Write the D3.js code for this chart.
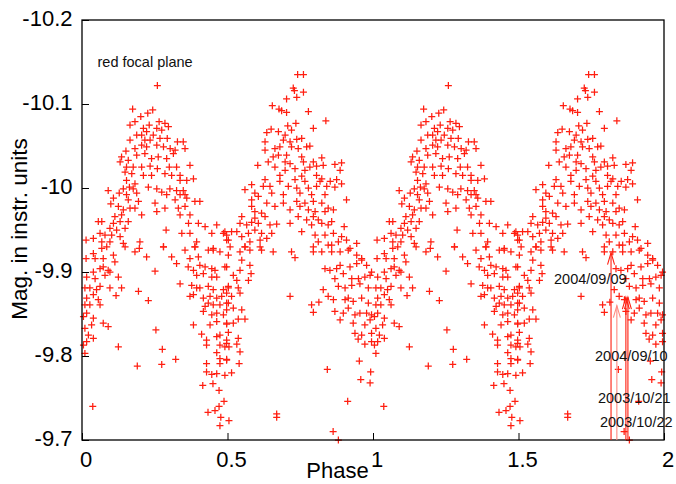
<!DOCTYPE html>
<html><head><meta charset="utf-8">
<script src="https://cdn.jsdelivr.net/npm/d3@7"></script>
<style>body{margin:0;background:#fff} text{font-family:"Liberation Sans",Arial,Helvetica,sans-serif}</style>
</head><body><svg id="c" width="676" height="484"></svg>
<script>
const xTicks=[0,0.5,1,1.5,2];
const xTickLabels=["0","0.5","1","1.5","2"];
const yTicks=[-10.2,-10.1,-10,-9.9,-9.8,-9.7];
const yTickLabels=["-10.2","-10.1","-10","-9.9","-9.8","-9.7"];
const cycles=[0,1];
// phase-folded observations for one cycle [phase, magnitude]
const obsPeak1=[[0.259,-10.122],[0.174,-10.094],[0.243,-10.093],[0.226,-10.089],[0.202,-10.085],[0.182,-10.079],[0.165,-10.075],[0.265,-10.079],[0.285,-10.077],[0.231,-10.075],[0.211,-10.071],[0.222,-10.067],[0.257,-10.071],[0.274,-10.069],[0.297,-10.073],[0.245,-10.063],[0.205,-10.063],[0.188,-10.063],[0.165,-10.057],[0.216,-10.057],[0.234,-10.057],[0.268,-10.059],[0.293,-10.059],[0.328,-10.055],[0.348,-10.055],[0.354,-10.047],[0.205,-10.051],[0.222,-10.049],[0.257,-10.051],[0.280,-10.049],[0.303,-10.047],[0.320,-10.045],[0.182,-10.047],[0.151,-10.044],[0.136,-10.037],[0.131,-10.031],[0.159,-10.033],[0.188,-10.039],[0.216,-10.041],[0.239,-10.035],[0.262,-10.037],[0.291,-10.035],[0.314,-10.041],[0.153,-10.025],[0.176,-10.025],[0.205,-10.025],[0.234,-10.026],[0.259,-10.023],[0.300,-10.025],[0.325,-10.025],[0.371,-10.027],[0.148,-10.019],[0.171,-10.017],[0.211,-10.015],[0.239,-10.015],[0.285,-10.017],[0.308,-10.015],[0.337,-10.015],[0.153,-10.009],[0.182,-10.005],[0.337,-10.009],[0.360,-10.009],[0.383,-10.011],[0.163,-10.001],[0.142,-9.999],[0.176,-9.999],[0.228,-10.001],[0.257,-9.999],[0.274,-9.995],[0.302,-9.999],[0.325,-9.997],[0.348,-9.997],[0.090,-9.997],[0.128,-9.994],[0.153,-9.992],[0.188,-9.994],[0.291,-9.992],[0.337,-9.992],[0.354,-9.992],[0.360,-9.988],[0.108,-9.988],[0.159,-9.986],[0.194,-9.984],[0.251,-9.982],[0.320,-9.986],[0.388,-9.984],[0.405,-9.984],[0.099,-9.981],[0.125,-9.978],[0.142,-9.974],[0.165,-9.976],[0.182,-9.976],[0.285,-9.976],[0.331,-9.976],[0.354,-9.978],[0.257,-9.972],[0.136,-9.968],[0.205,-9.968],[0.337,-9.968],[0.371,-9.968],[0.113,-9.966],[0.056,-9.960],[0.068,-9.960],[0.108,-9.958],[0.159,-9.960],[0.131,-9.960],[0.366,-9.958],[0.400,-9.958],[0.463,-9.956],[0.343,-9.946],[0.289,-9.950],[0.096,-9.952],[0.119,-9.950],[0.148,-9.952],[0.423,-9.954],[0.371,-9.946],[0.446,-9.946],[0.486,-9.946],[0.497,-9.944],[0.062,-9.946],[0.079,-9.944],[0.102,-9.944],[0.131,-9.942],[0.014,-9.938],[0.039,-9.940],[0.068,-9.936],[0.096,-9.936],[0.142,-9.934],[0.199,-9.936],[0.394,-9.936],[0.497,-9.938],[0.280,-9.930],[0.451,-9.928],[0.388,-9.930],[0.085,-9.930]];
const obsMin1=[[0.014,-9.916],[0.039,-9.922],[0.045,-9.916],[0.068,-9.928],[0.073,-9.916],[0.108,-9.920],[0.113,-9.912],[0.148,-9.930],[0.182,-9.924],[0.197,-9.928],[0.222,-9.918],[0.280,-9.930],[0.016,-9.894],[0.039,-9.900],[0.045,-9.892],[0.062,-9.904],[0.073,-9.906],[0.079,-9.896],[0.090,-9.902],[0.096,-9.900],[0.125,-9.894],[0.136,-9.881],[0.194,-9.877],[0.251,-9.901],[0.228,-9.866],[0.117,-9.872],[0.096,-9.881],[0.062,-9.883],[0.050,-9.879],[0.027,-9.881],[0.010,-9.881],[0.016,-9.869],[0.039,-9.873],[0.056,-9.867],[0.062,-9.861],[0.027,-9.861],[0.010,-9.861],[0.016,-9.851],[0.005,-9.847],[0.039,-9.845],[0.033,-9.837],[0.073,-9.839],[0.090,-9.835],[0.010,-9.833],[0.022,-9.825],[0.039,-9.821],[0.016,-9.817],[0.005,-9.813],[0.010,-9.803],[0.125,-9.811],[0.254,-9.831],[0.276,-9.808],[0.274,-9.790],[0.190,-9.788],[0.322,-9.796],[0.037,-9.740],[0.354,-9.926],[0.388,-9.930],[0.434,-9.926],[0.451,-9.926],[0.474,-9.924],[0.503,-9.920],[0.308,-9.918],[0.325,-9.910],[0.371,-9.916],[0.400,-9.918],[0.405,-9.908],[0.365,-9.906],[0.383,-9.902],[0.423,-9.906],[0.446,-9.904],[0.457,-9.902],[0.491,-9.906],[0.394,-9.896],[0.417,-9.898],[0.446,-9.894],[0.463,-9.894],[0.337,-9.886],[0.377,-9.884],[0.394,-9.881],[0.405,-9.881],[0.434,-9.883],[0.451,-9.879],[0.486,-9.879],[0.503,-9.881],[0.371,-9.871],[0.383,-9.873],[0.417,-9.869],[0.440,-9.871],[0.463,-9.869],[0.480,-9.871],[0.497,-9.875],[0.423,-9.859],[0.434,-9.863],[0.451,-9.861],[0.474,-9.861],[0.503,-9.863],[0.417,-9.853],[0.446,-9.849],[0.463,-9.851],[0.486,-9.849],[0.497,-9.855],[0.383,-9.837],[0.440,-9.837],[0.463,-9.841],[0.497,-9.839],[0.411,-9.826],[0.428,-9.819],[0.463,-9.823],[0.474,-9.825],[0.497,-9.819],[0.428,-9.813],[0.474,-9.813],[0.491,-9.811],[0.463,-9.804],[0.474,-9.797],[0.497,-9.795],[0.428,-9.791],[0.474,-9.791],[0.428,-9.781],[0.446,-9.778],[0.463,-9.779],[0.491,-9.777],[0.415,-9.765],[0.450,-9.767],[0.471,-9.759],[0.488,-9.746],[0.471,-9.740],[0.433,-9.733],[0.457,-9.735],[0.477,-9.727],[0.505,-9.723],[0.474,-9.717],[0.669,-9.731],[0.669,-9.727],[0.863,-9.710],[0.881,-9.700]];
const obsPeak2=[[0.741,-10.135],[0.761,-10.135],[0.726,-10.119],[0.730,-10.116],[0.761,-10.114],[0.703,-10.106],[0.738,-10.108],[0.654,-10.098],[0.677,-10.094],[0.703,-10.090],[0.778,-10.091],[0.686,-10.092],[0.838,-10.080],[0.795,-10.071],[0.707,-10.074],[0.735,-10.077],[0.720,-10.069],[0.635,-10.066],[0.650,-10.070],[0.675,-10.067],[0.698,-10.063],[0.755,-10.059],[0.629,-10.055],[0.692,-10.057],[0.715,-10.055],[0.738,-10.058],[0.629,-10.045],[0.663,-10.047],[0.680,-10.049],[0.720,-10.049],[0.743,-10.047],[0.772,-10.049],[0.783,-10.050],[0.657,-10.037],[0.675,-10.039],[0.703,-10.039],[0.755,-10.037],[0.640,-10.031],[0.698,-10.031],[0.715,-10.029],[0.761,-10.031],[0.795,-10.031],[0.824,-10.036],[0.869,-10.028],[0.892,-10.030],[0.604,-10.027],[0.663,-10.025],[0.698,-10.021],[0.732,-10.023],[0.766,-10.021],[0.783,-10.025],[0.806,-10.026],[0.829,-10.027],[0.887,-10.021],[0.680,-10.015],[0.755,-10.014],[0.806,-10.015],[0.824,-10.011],[0.629,-10.010],[0.680,-10.008],[0.732,-10.010],[0.766,-10.008],[0.818,-10.008],[0.853,-10.008],[0.875,-10.010],[0.892,-10.005],[0.583,-10.004],[0.623,-10.002],[0.646,-10.002],[0.709,-10.002],[0.738,-10.000],[0.778,-10.000],[0.806,-10.002],[0.841,-10.002],[0.869,-10.001],[0.560,-9.998],[0.594,-9.994],[0.652,-9.994],[0.692,-9.992],[0.749,-9.994],[0.789,-9.992],[0.835,-9.992],[0.583,-9.986],[0.606,-9.990],[0.635,-9.982],[0.663,-9.978],[0.692,-9.982],[0.738,-9.984],[0.766,-9.982],[0.795,-9.984],[0.824,-9.982],[0.846,-9.976],[0.909,-9.986],[0.583,-9.978],[0.594,-9.972],[0.617,-9.970],[0.715,-9.974],[0.749,-9.978],[0.778,-9.974],[0.801,-9.972],[0.835,-9.972],[0.864,-9.974],[0.549,-9.966],[0.594,-9.964],[0.629,-9.966],[0.743,-9.966],[0.772,-9.962],[0.795,-9.966],[0.812,-9.962],[0.858,-9.960],[0.543,-9.958],[0.566,-9.956],[0.583,-9.959],[0.606,-9.958],[0.646,-9.956],[0.669,-9.957],[0.715,-9.958],[0.789,-9.956],[0.824,-9.958],[0.846,-9.956],[0.901,-9.954],[0.491,-9.948],[0.514,-9.948],[0.532,-9.948],[0.572,-9.946],[0.594,-9.950],[0.617,-9.946],[0.652,-9.946],[0.755,-9.948],[0.801,-9.944],[0.835,-9.944],[0.864,-9.946],[0.892,-9.942],[0.503,-9.938],[0.549,-9.942],[0.577,-9.936],[0.612,-9.938],[0.635,-9.940],[0.812,-9.936],[0.846,-9.932],[0.881,-9.936],[0.909,-9.938],[0.944,-9.934],[0.560,-9.930],[0.612,-9.930],[0.795,-9.930],[0.858,-9.932],[0.921,-9.928]];
const obsMin2=[[0.509,-9.930],[0.543,-9.924],[0.560,-9.930],[0.577,-9.926],[0.617,-9.926],[0.657,-9.924],[0.720,-9.924],[0.732,-9.917],[0.795,-9.924],[0.824,-9.924],[0.497,-9.906],[0.549,-9.914],[0.543,-9.902],[0.577,-9.908],[0.581,-9.898],[0.520,-9.896],[0.532,-9.890],[0.572,-9.890],[0.503,-9.883],[0.537,-9.881],[0.514,-9.871],[0.543,-9.875],[0.497,-9.863],[0.520,-9.857],[0.549,-9.855],[0.537,-9.844],[0.560,-9.844],[0.497,-9.838],[0.520,-9.839],[0.503,-9.828],[0.537,-9.821],[0.497,-9.815],[0.505,-9.811],[0.532,-9.814],[0.543,-9.805],[0.497,-9.796],[0.540,-9.791],[0.514,-9.780],[0.715,-9.871],[0.843,-9.784],[0.835,-9.904],[0.852,-9.902],[0.875,-9.904],[0.887,-9.908],[0.898,-9.898],[0.921,-9.906],[0.944,-9.910],[0.961,-9.914],[0.978,-9.908],[0.995,-9.900],[0.858,-9.924],[0.887,-9.924],[0.915,-9.926],[0.944,-9.920],[0.961,-9.916],[0.869,-9.892],[0.927,-9.892],[0.950,-9.892],[0.972,-9.894],[0.990,-9.896],[0.881,-9.883],[0.904,-9.881],[0.927,-9.884],[0.955,-9.886],[0.984,-9.881],[0.829,-9.879],[0.846,-9.871],[0.864,-9.867],[0.904,-9.867],[0.915,-9.869],[0.932,-9.865],[0.961,-9.869],[0.984,-9.863],[0.789,-9.861],[0.814,-9.864],[0.795,-9.852],[0.869,-9.853],[0.898,-9.851],[0.915,-9.857],[0.938,-9.849],[0.955,-9.851],[0.978,-9.851],[0.995,-9.849],[0.887,-9.843],[0.932,-9.839],[0.972,-9.837],[0.990,-9.843],[0.938,-9.827],[0.961,-9.825],[0.995,-9.827],[0.949,-9.820],[0.972,-9.814],[0.995,-9.817],[0.953,-9.794],[0.992,-9.781],[0.958,-9.772],[0.990,-9.768],[0.913,-9.746]];
const arrowDates=["2004/09/09","2004/09/10","2003/10/21","2003/10/22"];
const arrowPhase=[1.818,1.838,1.869,1.876];
const arrowMag=[-9.923,-9.860,-9.870,-9.870];
const labelPhase=[1.622,1.763,1.773,1.780];
const labelMag=[-9.886,-9.794,-9.744,-9.715];

const svg=d3.select("#c");
const W=676,H=484,L=82,R=664,T=20,B=440;
const x=d3.scaleLinear().domain([0,2]).range([L,R]);
const y=d3.scaleLinear().domain([-10.2,-9.7]).range([T,B]);
const red="#ff1e10";

svg.append("rect").attr("width",W).attr("height",H).attr("fill","#fff");

const all=[].concat(obsPeak1,obsMin1,obsPeak2,obsMin2);
const pts=[];
cycles.forEach(c=>all.forEach(d=>pts.push([d[0]+c,d[1]])));
svg.append("g").selectAll("path").data(pts).join("path")
  .attr("transform",d=>`translate(${x(d[0])},${y(d[1])})`)
  .attr("d","M-3.5,0H3.5M0,-3.5V3.5")
  .attr("stroke",red).attr("stroke-width",1.25).attr("fill","none");

// axes
const xa=svg.append("g").attr("transform",`translate(0,${B})`)
  .call(d3.axisBottom(x).tickValues(xTicks).tickSize(-7).tickPadding(11).tickFormat((d,i)=>xTickLabels[i]));
xa.select(".domain").remove();
xa.selectAll("text").attr("font-size",22).attr("fill","#000").attr("dx",3.5).attr("font-family",null);
xa.selectAll("line").attr("stroke","#000");
const ya=svg.append("g").attr("transform",`translate(${L},0)`)
  .call(d3.axisLeft(y).tickValues(yTicks).tickSize(-7).tickPadding(9.5).tickFormat((d,i)=>yTickLabels[i]));
ya.select(".domain").remove();
ya.selectAll("text").attr("font-size",22).attr("fill","#000").attr("dy","0.25em").attr("font-family",null);
ya.selectAll("line").attr("stroke","#000");
svg.append("rect").attr("x",L).attr("y",T).attr("width",R-L).attr("height",B-T)
  .attr("fill","none").attr("stroke","#000").attr("stroke-width",1.3);

// arrows
const ag=svg.append("g");
arrowPhase.forEach((p,i)=>{
  const tx=x(p),ty=y(arrowMag[i]);
  const col=i===1?"#ff8a80":red;
  ag.append("line").attr("x1",tx).attr("x2",tx).attr("y1",B).attr("y2",ty).attr("stroke",col).attr("stroke-width",1.1);
  ag.append("path").attr("d",`M${tx-3.5},${ty+12}L${tx},${ty}L${tx+3.5},${ty+12}`).attr("stroke",col).attr("stroke-width",1.1).attr("fill","none");
});
arrowDates.forEach((t,i)=>{
  svg.append("text").attr("x",x(labelPhase[i])).attr("y",y(labelMag[i])).attr("font-size",14.5).attr("fill","#111").text(t);
});

svg.append("text").attr("x",97.5).attr("y",66.5).attr("font-size",14.5).attr("fill","#111").text("red focal plane");
svg.append("text").attr("x",337.5).attr("y",478).attr("text-anchor","middle").attr("font-size",22).text("Phase");
svg.append("text").attr("transform","translate(27,229) rotate(-90)").attr("text-anchor","middle").attr("font-size",22.5).text("Mag. in instr. units");
</script></body></html>
